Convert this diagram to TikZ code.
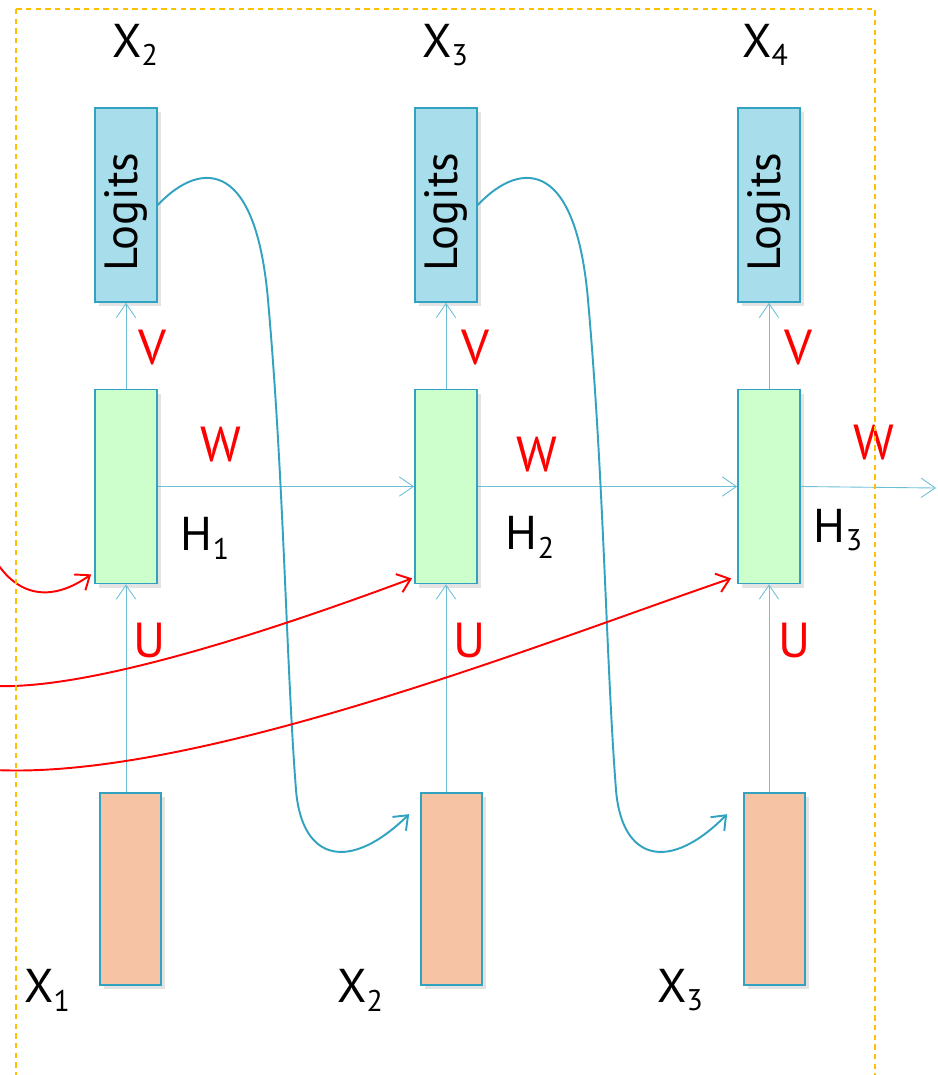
\documentclass[tikz,border=0pt]{standalone}
\usepackage{fontspec}
\setmainfont{PT Sans}
\usepackage{graphicx}
\usetikzlibrary{arrows.meta,shadows}

\definecolor{logitblue}{HTML}{A8DDEB}
\definecolor{hidgreen}{HTML}{CCFFCC}
\definecolor{inpeach}{HTML}{F6C4A5}
\definecolor{boxedge}{HTML}{31A3C1}
\definecolor{linkblue}{HTML}{6CBFD6}
\definecolor{dashorange}{HTML}{FFC000}

\newcommand{\varlab}[2]{#1\raisebox{-5pt}{\fontsize{17}{17}\selectfont #2}}

\tikzset{
	unit/.style={draw=boxedge, line width=1pt, minimum width=1.24cm, minimum height=3.88cm, inner sep=0pt,
		drop shadow={shadow xshift=2pt, shadow yshift=-2.5pt, opacity=0.22}},
	logit/.style={unit, fill=logitblue, font=\fontsize{26.5}{26.5}\selectfont},
	hidden/.style={unit, fill=hidgreen},
	input/.style={unit, fill=inpeach, minimum width=1.22cm, minimum height=3.84cm},
	weight/.style={text=red, font=\fontsize{28}{28}\selectfont},
	varname/.style={font=\fontsize{27}{27}\selectfont},
	link/.style={draw=linkblue, line width=0.5pt, -{Straight Barb[length=8pt,width=11pt]}},
	feed/.style={draw=boxedge, line width=1.1pt, -{Straight Barb[length=7pt,width=11pt]}},
	skip/.style={draw=red, line width=1.1pt, -{Straight Barb[length=7pt,width=11pt]}}
}

\begin{document}
\begin{tikzpicture}[x=0.02cm, y=-0.02cm]

\path [use as bounding box] (0,0) rectangle (937,1075);

% BOXES
\node [logit] (L1) at (126,205) {\rotatebox{90}{Logits\kern8pt}};
\node [logit] (L2) at (446,205) {\rotatebox{90}{Logits\kern8pt}};
\node [logit] (L3) at (769,205) {\rotatebox{90}{Logits\kern8pt}};

\node [hidden] (G1) at (126,486.5) {};
\node [hidden] (G2) at (446,486.5) {};
\node [hidden] (G3) at (769,486.5) {};

\node [input] (X1) at (130.5,889) {};
\node [input] (X2) at (451.5,889) {};
\node [input] (X3) at (774.5,889) {};

% LINKS
\draw [link] (X1.north -| G1.south) -- (G1.south);
\draw [link] (X2.north -| G2.south) -- (G2.south);
\draw [link] (X3.north -| G3.south) -- (G3.south);

\draw [link] (G1.north) -- (L1.south);
\draw [link] (G2.north) -- (L2.south);
\draw [link] (G3.north) -- (L3.south);

\coordinate (hout) at (936,488);
\draw [link] (G1.east) -- (G2.west);
\draw [link] (G2.east) -- (G3.west);
\draw [link] (G3.east) -- (hout);

% FEEDBACK
\draw [feed] (L1.east) .. controls (195,165) and (255,150) .. (268,300)
	.. controls (284,480) and (286,660) .. (296,790)
	.. controls (302,862) and (350,872) .. ([shift={(-11,22)}]X2.north west);
\draw [feed] (L2.east) .. controls (515,165) and (575,150) .. (588,300)
	.. controls (604,480) and (606,660) .. (616,790)
	.. controls (622,862) and (670,872) .. ([shift={(-16,22)}]X3.north west);

% SKIP
\coordinate (r1) at (-5,560);
\coordinate (r2) at (-5,686);
\coordinate (r3) at (-5,770);
\draw [skip] (r1) .. controls (20,600) and (55,600) .. ([shift={(-3,-10)}]G1.south west);
\draw [skip] (r2) .. controls (100,690) and (300,620) .. ([shift={(-2,-6)}]G2.south west);
\draw [skip] (r3) .. controls (200,780) and (550,640) .. ([shift={(-6,-6)}]G3.south west);

% LABELS
\node [varname] (t2) at (135,45) {\varlab{X}{2}};
\node [varname] (t3) at (445,45) {\varlab{X}{3}};
\node [varname] (t4) at (765,45) {\varlab{X}{4}};

\node [varname] (b1) at (47,990) {\varlab{X}{1}};
\node [varname] (b2) at (360,990) {\varlab{X}{2}};
\node [varname] (b3) at (680,990) {\varlab{X}{3}};

\node [varname] (h1) at (205,538) {\varlab{H}{1}};
\node [varname] (h2) at (530,537) {\varlab{H}{2}};
\node [varname] (h3) at (838,530) {\varlab{H}{3}};

\node [weight] (v1) at (152,348) {V};
\node [weight] (v2) at (475,348) {V};
\node [weight] (v3) at (798,348) {V};

\node [weight] (w1) at (221,445) {W};
\node [weight] (w2) at (537,455) {W};
\node [weight] (w3) at (874,443) {W};

\node [weight] (u1) at (150,640) {U};
\node [weight] (u2) at (470,640) {U};
\node [weight] (u3) at (795,640) {U};

% FRAME
\draw [dashorange, line width=0.6pt, dash pattern=on 3pt off 2.5pt] (16,9) rectangle (875,1100);

\end{tikzpicture}
\end{document}
